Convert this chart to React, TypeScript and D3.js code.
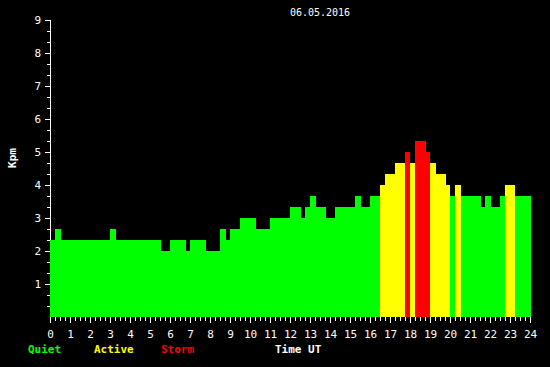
import React, { useEffect } from "react";
import * as d3 from "d3";

// bar start times (hours UT) and Kp values; last bar ends at barEnd
const startTimes = [0, 0.25, 0.55, 3.0, 3.3, 5.55, 6.0, 6.8, 7.0, 7.8, 8.5, 8.8, 9.0, 9.5, 10.3, 11.0, 12.0, 12.55, 12.75, 13.0, 13.3, 13.8, 14.25, 15.25, 15.55, 16.0, 16.5, 16.75, 17.25, 17.75, 18.0, 18.25, 18.8, 19.0, 19.3, 19.8, 20.0, 20.25, 20.55, 21.55, 21.75, 22.05, 22.5, 22.75, 23.25];
const kpValues = [2.33, 2.67, 2.33, 2.67, 2.33, 2.0, 2.33, 2.0, 2.33, 2.0, 2.67, 2.33, 2.67, 3.0, 2.67, 3.0, 3.33, 3.0, 3.33, 3.67, 3.33, 3.0, 3.33, 3.67, 3.33, 3.67, 4.0, 4.33, 4.67, 5.0, 4.67, 5.33, 5.0, 4.67, 4.33, 4.0, 3.67, 4.0, 3.67, 3.33, 3.67, 3.33, 3.67, 4.0, 3.67];
const barEnd = 24.05;
const xTickLabels = d3.range(0, 25);
const yTickLabels = d3.range(1, 10);
const legendItems = ["Quiet", "Active", "Storm"];
const legendColors = ["#00ff00", "#ffff00", "#ff0000"];
const title = "06.05.2016";

const W = 550, H = 367;
const FONT = "'DejaVu Sans Mono', 'Liberation Mono', monospace";

export default function App() {
  useEffect(() => {
    document.body.style.margin = "0";
    document.body.style.background = "#000";
  }, []);

  const x = d3.scaleLinear().domain([0, 24]).range([50, 530]);
  const y = d3.scaleLinear().domain([0, 9]).range([317, 20]);
  const color = (v: number) => (v >= 5 ? legendColors[2] : v >= 4 ? legendColors[1] : legendColors[0]);

  const bars = startTimes.map((t, i) => ({
    t0: t,
    t1: i < startTimes.length - 1 ? startTimes[i + 1] : barEnd,
    v: kpValues[i],
  }));

  const minorY = d3.range(1, 27).map((k) => k / 3).filter((v) => Math.abs(v - Math.round(v)) > 0.01);
  const minorX = d3.range(0, 97).map((k) => k / 4).filter((v) => Math.abs(v - Math.round(v)) > 0.01);

  return (
    <svg width={W} height={H} style={{ display: "block", background: "#000" }}>
      <rect x={0} y={0} width={W} height={H} fill="#000" />
      {/* y axis */}
      <line x1={50.5} x2={50.5} y1={y(9)} y2={323} stroke="#fff" strokeWidth={1} />
      {yTickLabels.map((v) => (
        <g key={"yt" + v}>
          <line x1={45} x2={50} y1={Math.round(y(v)) + 0.5} y2={Math.round(y(v)) + 0.5} stroke="#fff" />
          <text x={41} y={y(v) + 4} fill="#fff" fontSize={11} fontFamily={FONT} textAnchor="end">{v}</text>
        </g>
      ))}
      {minorY.map((v, i) => (
        <line key={"ym" + i} x1={47} x2={50} y1={Math.round(y(v)) + 0.5} y2={Math.round(y(v)) + 0.5} stroke="#fff" />
      ))}
      {/* x ticks */}
      {xTickLabels.map((v) => (
        <g key={"xt" + v}>
          <line x1={Math.round(x(v)) + 0.5} x2={Math.round(x(v)) + 0.5} y1={317} y2={323} stroke="#fff" />
          <text x={x(v) + 0.5} y={338} fill="#fff" fontSize={11} fontFamily={FONT} textAnchor="middle">{v}</text>
        </g>
      ))}
      {minorX.map((v, i) => (
        <line key={"xm" + i} x1={Math.round(x(v)) + 0.5} x2={Math.round(x(v)) + 0.5} y1={317} y2={321} stroke="#fff" />
      ))}
      {/* bars */}
      {bars.map((b, i) => (
        <rect
          key={"b" + i}
          x={Math.round(x(b.t0))}
          width={Math.round(x(b.t1)) - Math.round(x(b.t0))}
          y={Math.round(y(b.v))}
          height={Math.round(y(0)) - Math.round(y(b.v))}
          fill={color(b.v)}
          shapeRendering="crispEdges"
        />
      ))}
      {/* labels */}
      <text x={320} y={16} fill="#fff" fontSize={10} fontFamily={FONT} textAnchor="middle">{title}</text>
      <text transform="translate(16,158) rotate(-90)" fill="#fff" fontSize={11} fontWeight="bold" fontFamily={FONT} textAnchor="middle">Kpm</text>
      {legendItems.map((s, i) => (
        <text key={s} x={[28, 94, 161][i]} y={353} fill={legendColors[i]} fontSize={11} fontWeight="bold" fontFamily={FONT}>{s}</text>
      ))}
      <text x={275} y={353} fill="#fff" fontSize={11} fontWeight="bold" fontFamily={FONT}>Time UT</text>
    </svg>
  );
}
